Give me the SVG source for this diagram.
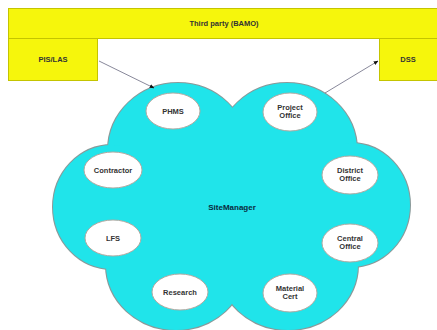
<svg xmlns="http://www.w3.org/2000/svg" width="437" height="330" viewBox="0 0 437 330">
<defs>
<style>
.box{fill:#f6f60c;stroke:#c4c400;stroke-width:1}
.t{font-family:"Liberation Sans",Arial,sans-serif;font-size:7.5px;font-weight:bold;fill:#333;text-anchor:middle}
.lobeS{fill:#20e4ea;stroke:#8a9a9a;stroke-width:2}
.lobeF{fill:#20e4ea}
.node{fill:#ffffff;stroke:#b0a8a0;stroke-width:1}
.nt{font-family:"Liberation Sans",Arial,sans-serif;font-size:7.5px;font-weight:bold;fill:#333;text-anchor:middle}
.conn{stroke:#6a6a80;stroke-width:0.8;fill:none;marker-end:url(#ah)}
</style>
<marker id="ah" viewBox="0 0 10 10" refX="9" refY="5" markerWidth="6" markerHeight="6" orient="auto"><path d="M0,1 L10,5 L0,9 z" fill="#111"/></marker>
</defs>
<rect width="437" height="330" fill="#ffffff"/>
<g id="third-party">
<rect class="box" x="8.5" y="8.5" width="430" height="30"/>
<text class="t" x="224" y="25.5">Third party (BAMO)</text>
</g>
<g id="pis-las">
<rect class="box" x="8.5" y="38.5" width="89" height="42"/>
<text class="t" x="53" y="62">PIS/LAS</text>
</g>
<g id="dss">
<rect class="box" x="379.5" y="38.5" width="59" height="42"/>
<text class="t" x="408" y="62">DSS</text>
</g>
<g id="sitemanager">
<g class="lobeS">
<ellipse cx="178" cy="150" rx="70" ry="67"/>
<ellipse cx="287" cy="150" rx="70" ry="67"/>
<ellipse cx="112" cy="207" rx="59" ry="62"/>
<ellipse cx="351" cy="205" rx="59" ry="62"/>
<ellipse cx="176" cy="265" rx="70" ry="65"/>
<ellipse cx="288" cy="265" rx="70" ry="65"/>
</g>
<g class="lobeF">
<ellipse cx="178" cy="150" rx="70" ry="67"/>
<ellipse cx="287" cy="150" rx="70" ry="67"/>
<ellipse cx="112" cy="207" rx="59" ry="62"/>
<ellipse cx="351" cy="205" rx="59" ry="62"/>
<ellipse cx="176" cy="265" rx="70" ry="65"/>
<ellipse cx="288" cy="265" rx="70" ry="65"/>
<rect x="120" y="140" width="225" height="135"/>
</g>
<text x="232" y="210" font-family="Liberation Sans,Arial,sans-serif" font-size="8" font-weight="bold" fill="#0a2a40" text-anchor="middle">SiteManager</text>
</g>
<g id="phms"><ellipse class="node" cx="173" cy="111" rx="27" ry="18"/><text class="nt" x="173" y="114">PHMS</text></g>
<g id="project-office"><ellipse class="node" cx="290" cy="112" rx="27" ry="19"/><text class="nt" x="290" y="110">Project</text><text class="nt" x="290" y="118">Office</text></g>
<g id="contractor"><ellipse class="node" cx="113" cy="170" rx="29" ry="18"/><text class="nt" x="113" y="173">Contractor</text></g>
<g id="district-office"><ellipse class="node" cx="350" cy="175" rx="28" ry="19"/><text class="nt" x="350" y="173">District</text><text class="nt" x="350" y="181">Office</text></g>
<g id="lfs"><ellipse class="node" cx="113" cy="238" rx="28" ry="18"/><text class="nt" x="113" y="241">LFS</text></g>
<g id="central-office"><ellipse class="node" cx="350" cy="243" rx="28" ry="19"/><text class="nt" x="350" y="241">Central</text><text class="nt" x="350" y="249">Office</text></g>
<g id="research"><ellipse class="node" cx="180" cy="292" rx="28" ry="18"/><text class="nt" x="180" y="295">Research</text></g>
<g id="material-cert"><ellipse class="node" cx="290" cy="293" rx="27" ry="19"/><text class="nt" x="290" y="291">Material</text><text class="nt" x="290" y="299">Cert</text></g>
<g id="connectors">
<line class="conn" x1="99" y1="61" x2="154" y2="88"/>
<line class="conn" x1="325" y1="93" x2="378" y2="61"/>
</g>
</svg>
